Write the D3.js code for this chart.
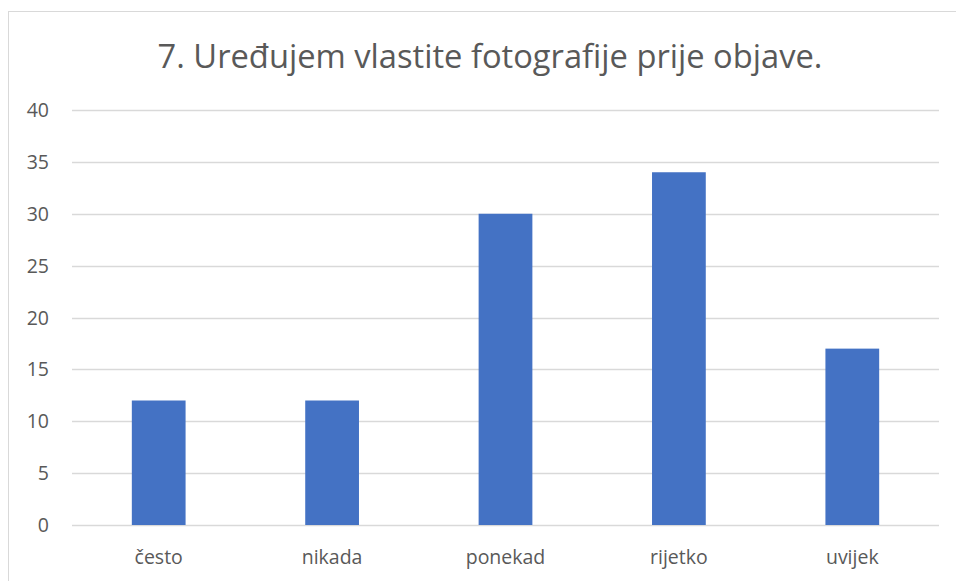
<!DOCTYPE html>
<html>
<head>
<meta charset="UTF-8">
<style>
  body { margin: 0; background: #fff; }
  svg { display: block; font-family: "Open Sans", sans-serif; }
</style>
</head>
<body>
<svg></svg>
<script src="https://d3js.org/d3.v7.min.js"></script>
<script>
const title = "7. Uređujem vlastite fotografije prije objave.";
const categories = ["često", "nikada", "ponekad", "rijetko", "uvijek"];
const values = [12, 12, 30, 34, 17];
const yTicks = [0, 5, 10, 15, 20, 25, 30, 35, 40];

const width = 956, height = 581;
const svg = d3.select("svg").attr("width", width).attr("height", height);

// chart frame (cut off at right and bottom in the original)
svg.append("rect")
  .attr("x", 8.5).attr("y", 11.5)
  .attr("width", 960).attr("height", 600)
  .attr("fill", "#fff").attr("stroke", "#d9d9d9");

const plotLeft = 72, plotRight = 939, plotTop = 110, plotBottom = 525;

const x = d3.scaleBand().domain(categories).range([plotLeft, plotRight]).paddingInner(0.69).paddingOuter(0.345);
const y = d3.scaleLinear().domain([0, 40]).range([plotBottom, plotTop]);

// grid lines
svg.append("g")
  .selectAll("line")
  .data(yTicks)
  .enter()
  .append("line")
    .attr("x1", plotLeft).attr("x2", plotRight)
    .attr("y1", d => Math.round(y(d)) + 0.5)
    .attr("y2", d => Math.round(y(d)) + 0.5)
    .attr("stroke", "#d9d9d9")
    .attr("stroke-width", 1.3);

// y tick labels
svg.append("g")
  .selectAll("text")
  .data(yTicks)
  .enter()
  .append("text")
    .attr("x", 49)
    .attr("y", d => y(d))
    .attr("dy", "0.36em")
    .attr("text-anchor", "end")
    .attr("fill", "#595959")
    .style("font-size", "19.5px")
    .text(d => d);

// bars
svg.append("g")
  .selectAll("rect")
  .data(values)
  .enter()
  .append("rect")
    .attr("x", (d, i) => x(categories[i]))
    .attr("width", x.bandwidth())
    .attr("y", d => y(d))
    .attr("height", d => y(0) - y(d))
    .attr("fill", "#4472c4");

// category labels
svg.append("g")
  .selectAll("text")
  .data(categories)
  .enter()
  .append("text")
    .attr("x", d => x(d) + x.bandwidth() / 2)
    .attr("y", 564)
    .attr("text-anchor", "middle")
    .attr("fill", "#595959")
    .style("font-size", "19.5px")
    .text(d => d);

// title, sized to the original's width
const t = svg.append("text")
  .attr("x", 490)
  .attr("y", 68)
  .attr("text-anchor", "middle")
  .attr("fill", "#595959")
  .style("font-size", "32px")
  .text(title);
const w = t.node().getComputedTextLength();
t.style("font-size", (32 * 665 / w).toFixed(2) + "px");
</script>
</body>
</html>
